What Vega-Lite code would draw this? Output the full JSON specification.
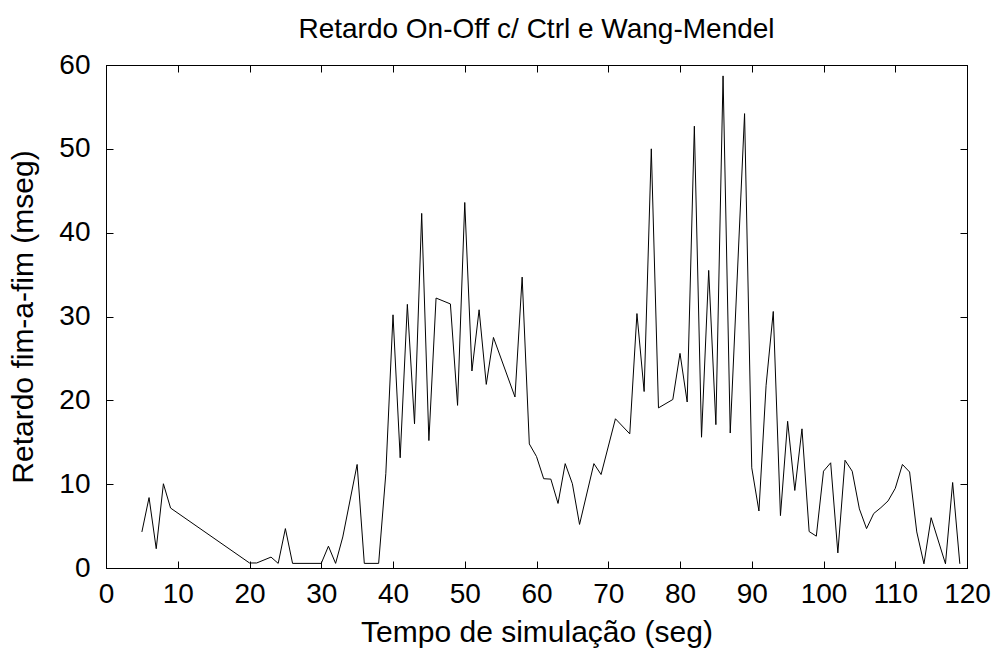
{
  "$schema": "https://vega.github.io/schema/vega-lite/v6.json",
  "width": 861,
  "height": 503,
  "autosize": "none",
  "padding": {"left": 106, "top": 65, "right": 36, "bottom": 85},
  "background": "white",
  "title": {"text": "Retardo On-Off c/ Ctrl e Wang-Mendel", "font": "Liberation Sans", "fontSize": 28, "fontWeight": "normal", "color": "black", "anchor": "middle", "offset": 7},
  "config": {
    "view": {"stroke": "black", "strokeWidth": 1},
    "axis": {"grid": false, "domainColor": "black", "tickColor": "black", "labelColor": "black", "titleColor": "black", "labelFont": "Liberation Sans", "titleFont": "Liberation Sans", "labelFontSize": 28, "titleFontSize": 30, "titleFontWeight": "normal", "tickSize": -7, "tickWidth": 1, "domainWidth": 1}
  },
  "data": {"values": [
    {"t": 5, "d": 4.3}, {"t": 6, "d": 8.4}, {"t": 7, "d": 2.3}, {"t": 8, "d": 10.05}, {"t": 9, "d": 7.15},
    {"t": 20, "d": 0.6}, {"t": 21, "d": 0.6}, {"t": 23, "d": 1.3}, {"t": 24, "d": 0.55}, {"t": 25, "d": 4.7},
    {"t": 26, "d": 0.55}, {"t": 30, "d": 0.55}, {"t": 31, "d": 2.6}, {"t": 32, "d": 0.55}, {"t": 33, "d": 3.7},
    {"t": 35, "d": 12.35}, {"t": 36, "d": 0.55}, {"t": 38, "d": 0.55}, {"t": 39, "d": 11.25}, {"t": 40, "d": 30.2},
    {"t": 41, "d": 13.15}, {"t": 42, "d": 31.45}, {"t": 43, "d": 17.2}, {"t": 44, "d": 42.3}, {"t": 45, "d": 15.2},
    {"t": 46, "d": 32.2}, {"t": 48, "d": 31.5}, {"t": 49, "d": 19.4}, {"t": 50, "d": 43.6}, {"t": 51, "d": 23.5},
    {"t": 52, "d": 30.8}, {"t": 53, "d": 21.9}, {"t": 54, "d": 27.5}, {"t": 57, "d": 20.4}, {"t": 58, "d": 34.7},
    {"t": 59, "d": 14.8}, {"t": 60, "d": 13.3}, {"t": 61, "d": 10.65}, {"t": 62, "d": 10.6}, {"t": 63, "d": 7.7},
    {"t": 64, "d": 12.45}, {"t": 65, "d": 10.05}, {"t": 66, "d": 5.2}, {"t": 68, "d": 12.45}, {"t": 69, "d": 11.15},
    {"t": 71, "d": 17.8}, {"t": 73, "d": 16.0}, {"t": 74, "d": 30.35}, {"t": 75, "d": 21.05}, {"t": 76, "d": 50.0},
    {"t": 77, "d": 19.1}, {"t": 79, "d": 20.1}, {"t": 80, "d": 25.6}, {"t": 81, "d": 19.8}, {"t": 82, "d": 52.7},
    {"t": 83, "d": 15.6}, {"t": 84, "d": 35.5}, {"t": 85, "d": 17.1}, {"t": 86, "d": 58.7}, {"t": 87, "d": 16.1},
    {"t": 89, "d": 54.2}, {"t": 90, "d": 11.95}, {"t": 91, "d": 6.8}, {"t": 92, "d": 21.8}, {"t": 93, "d": 30.6},
    {"t": 94, "d": 6.25}, {"t": 95, "d": 17.5}, {"t": 96, "d": 9.25}, {"t": 97, "d": 16.6}, {"t": 98, "d": 4.35},
    {"t": 99, "d": 3.8}, {"t": 100, "d": 11.55}, {"t": 101, "d": 12.55}, {"t": 102, "d": 1.8}, {"t": 103, "d": 12.85},
    {"t": 104, "d": 11.55}, {"t": 105, "d": 7.05}, {"t": 106, "d": 4.7}, {"t": 107, "d": 6.5}, {"t": 108, "d": 7.2},
    {"t": 109, "d": 8.0}, {"t": 110, "d": 9.5}, {"t": 111, "d": 12.35}, {"t": 112, "d": 11.45}, {"t": 113, "d": 4.3},
    {"t": 114, "d": 0.5}, {"t": 115, "d": 6.0}, {"t": 117, "d": 0.5}, {"t": 118, "d": 10.2}, {"t": 119, "d": 0.5}
  ]},
  "layer": [
    {
      "mark": {"type": "line", "color": "black", "strokeWidth": 1},
      "encoding": {
        "x": {"field": "t", "type": "quantitative", "scale": {"domain": [0, 120], "nice": false, "zero": false},
              "axis": {"orient": "bottom", "values": [0,10,20,30,40,50,60,70,80,90,100,110,120], "labelPadding": 19, "labelFlush": false, "title": "Tempo de simulação (seg)", "titlePadding": 9}},
        "y": {"field": "d", "type": "quantitative", "scale": {"domain": [0, 60], "nice": false},
              "axis": {"orient": "left", "values": [0,10,20,30,40,50,60], "labelPadding": 23, "title": "Retardo fim-a-fim (mseg)", "titlePadding": 20}}
      }
    },
    {
      "mark": {"type": "line", "opacity": 0},
      "encoding": {
        "x": {"field": "t", "type": "quantitative", "axis": {"orient": "top", "values": [0,10,20,30,40,50,60,70,80,90,100,110,120], "labels": false, "title": null}},
        "y": {"field": "d", "type": "quantitative", "axis": {"orient": "right", "values": [0,10,20,30,40,50,60], "labels": false, "title": null}}
      }
    }
  ],
  "resolve": {"axis": {"x": "independent", "y": "independent"}}
}
